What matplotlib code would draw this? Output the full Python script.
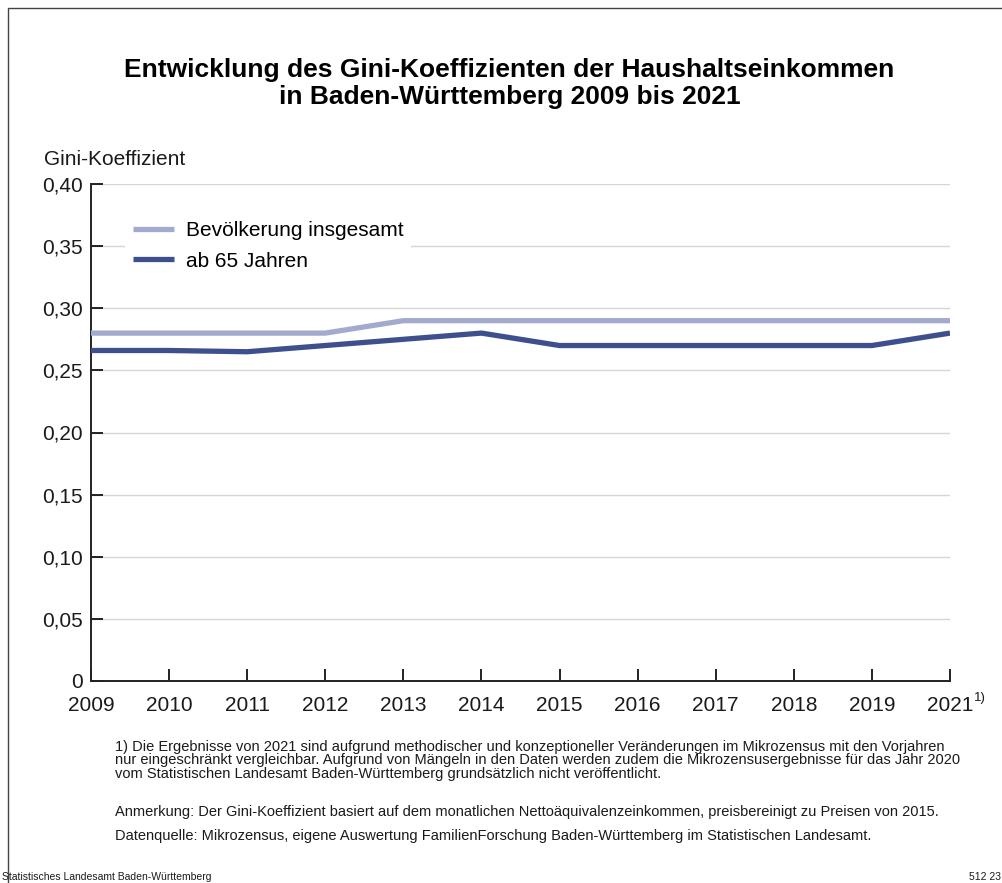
import matplotlib
matplotlib.use("Agg")
import matplotlib.pyplot as plt
import matplotlib.patches as mpatches
from matplotlib import font_manager

# Data
years = ['2009', '2010', '2011', '2012', '2013', '2014', '2015', '2016', '2017', '2018', '2019', '2021']
gini_total = [0.28, 0.28, 0.28, 0.28, 0.29, 0.29, 0.29, 0.29, 0.29, 0.29, 0.29, 0.29]
gini_65 = [0.266, 0.266, 0.265, 0.270, 0.275, 0.280, 0.270, 0.270, 0.270, 0.270, 0.270, 0.280]
y_ticks = [0, 0.05, 0.10, 0.15, 0.20, 0.25, 0.30, 0.35, 0.40]
y_tick_labels = ['0', '0,05', '0,10', '0,15', '0,20', '0,25', '0,30', '0,35', '0,40']

names = {f.name for f in font_manager.fontManager.ttflist}
base_font = 'Liberation Sans' if 'Liberation Sans' in names else 'DejaVu Sans'
narrow_font = 'Liberation Sans Narrow' if 'Liberation Sans Narrow' in names else base_font
plt.rcParams['font.family'] = [base_font, 'DejaVu Sans']

color_total = '#a4aacd'
color_65 = '#3e4f8e'
text_col = '#1a1a1a'

fig = plt.figure(figsize=(10.03, 8.83), dpi=100)
ax = fig.add_axes((91 / 1003, 1 - 681 / 883, (950 - 91) / 1003, (681 - 184) / 883))

x = list(range(len(years)))
ax.plot(x, gini_total, color=color_total, linewidth=3.8, solid_capstyle='butt',
        label='Bevölkerung insgesamt', zorder=3)
ax.plot(x, gini_65, color=color_65, linewidth=3.8, solid_capstyle='butt',
        label='ab 65 Jahren', zorder=4)

ax.set_xlim(0, len(years) - 1)
ax.set_ylim(0, 0.40)
ax.set_xticks(x)
ax.set_xticklabels(years)
ax.set_yticks(y_ticks)
ax.set_yticklabels(y_tick_labels)

for s in ['top', 'right']:
    ax.spines[s].set_visible(False)
for s in ['left', 'bottom']:
    ax.spines[s].set_linewidth(1.4)
    ax.spines[s].set_color('#222222')

ax.tick_params(axis='both', direction='in', length=8.5, width=1.4, color='#222222',
               labelsize=15, labelcolor=text_col)
ax.tick_params(axis='y', pad=6)
ax.tick_params(axis='x', pad=11)
ax.grid(axis='y', color='#d6d6d6', linewidth=1.0, zorder=0)
ax.set_axisbelow(True)

# superscript footnote mark on last tick label
ax.annotate('1)', xy=(1.0, 0), xycoords='axes fraction', xytext=(17.5, -12),
            textcoords='offset points', fontsize=9.5, ha='left', va='center', color=text_col)

ax.text(-0.055, 1.03, 'Gini-Koeffizient', transform=ax.transAxes, fontsize=15,
        ha='left', va='bottom', color=text_col)

leg = ax.legend(loc='upper left', bbox_to_anchor=(0.04, 0.94), frameon=True, fontsize=15,
                handlelength=2.0, handletextpad=0.55, labelspacing=0.55, borderaxespad=0,
                borderpad=0.35)
leg.get_frame().set_edgecolor('none')
leg.get_frame().set_facecolor('white')
leg.get_frame().set_alpha(1)
leg.get_frame().set_boxstyle('square', pad=0)

# Title
fig.text(0.508, 1 - 70 / 883, 'Entwicklung des Gini-Koeffizienten der Haushaltseinkommen',
         ha='center', va='center', fontsize=19, fontweight='bold', family=narrow_font)
fig.text(0.508, 1 - 97 / 883, 'in Baden-Württemberg 2009 bis 2021',
         ha='center', va='center', fontsize=19, fontweight='bold', family=narrow_font)

# Footnotes
notes = ('1) Die Ergebnisse von 2021 sind aufgrund methodischer und konzeptioneller Veränderungen im Mikrozensus mit den Vorjahren\n'
         'nur eingeschränkt vergleichbar. Aufgrund von Mängeln in den Daten werden zudem die Mikrozensusergebnisse für das Jahr 2020\n'
         'vom Statistischen Landesamt Baden-Württemberg grundsätzlich nicht veröffentlicht.')
fig.text(115 / 1003, 1 - 740 / 883, notes, ha='left', va='top', fontsize=10.5,
         family=narrow_font, linespacing=0.95, color=text_col)
fig.text(115 / 1003, 1 - 812 / 883,
         'Anmerkung: Der Gini-Koeffizient basiert auf dem monatlichen Nettoäquivalenzeinkommen, preisbereinigt zu Preisen von 2015.',
         ha='left', va='center', fontsize=10.5, family=narrow_font, color=text_col)
fig.text(115 / 1003, 1 - 836 / 883,
         'Datenquelle: Mikrozensus, eigene Auswertung FamilienForschung Baden-Württemberg im Statistischen Landesamt.',
         ha='left', va='center', fontsize=10.5, family=narrow_font, color=text_col)

fig.text(2 / 1003, 1 - 877 / 883, 'Statistisches Landesamt Baden-Württemberg', ha='left', va='center',
         fontsize=7.5, family=narrow_font, color=text_col)
fig.text(1001 / 1003, 1 - 877 / 883, '512 23', ha='right', va='center', fontsize=7.5,
         family=narrow_font, color=text_col)

# Outer frame
frame = mpatches.Rectangle((8 / 1003, -0.1), 1.2, 1 - 8 / 883 + 0.1, transform=fig.transFigure,
                           fill=False, edgecolor='#444444', linewidth=1.0)
fig.patches.append(frame)

fig.savefig('out.png', dpi=100)
